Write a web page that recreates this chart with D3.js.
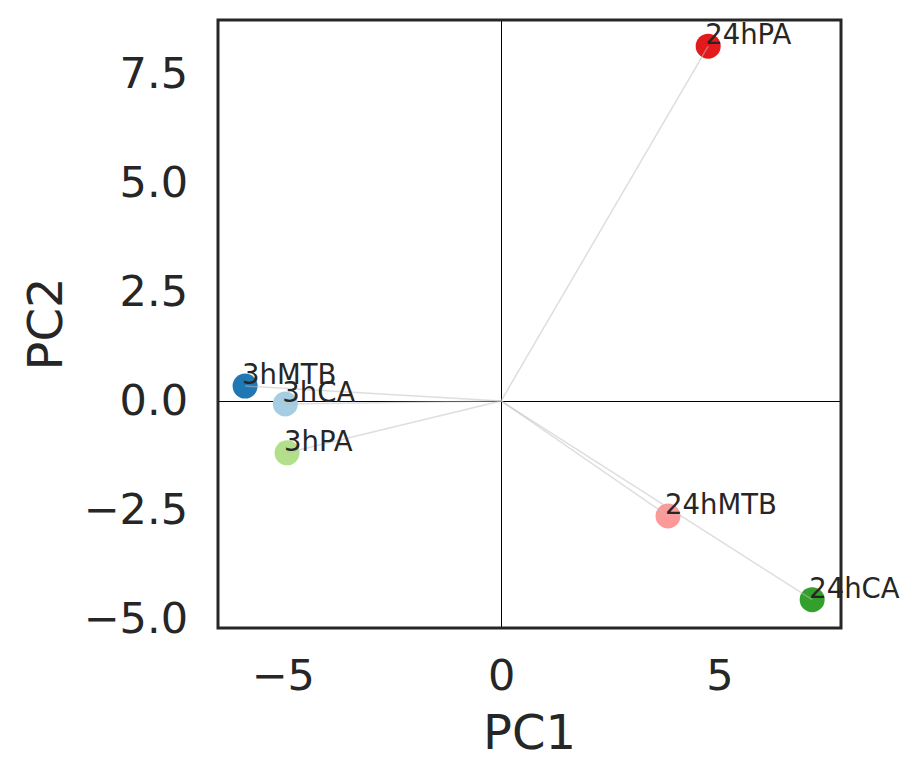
<!DOCTYPE html>
<html>
<head>
<meta charset="utf-8">
<script src="https://cdn.jsdelivr.net/npm/d3@7"></script>
<style>
  body { margin: 0; background: #fff; }
  text { font-family: "DejaVu Sans", sans-serif; fill: #262626; }
</style>
</head>
<body>
<div id="chart"></div>
<script>
const samples = ["3hCA", "3hMTB", "3hPA", "24hCA", "24hMTB", "24hPA"];
const pc1 = [-4.94, -5.86, -4.90, 7.12, 3.82, 4.74];
const pc2 = [-0.07, 0.34, -1.19, -4.56, -2.64, 8.14];
const colors = ["#a6cee3", "#1f78b4", "#b2df8a", "#33a02c", "#fb9a99", "#e31a1c"];
const xTicks = [-5, 0, 5];
const yTicks = [-5, -2.5, 0, 2.5, 5, 7.5];

const W = 919, H = 778;
const m = { left: 218, right: 919 - 841, top: 20, bottom: 778 - 628 };

const svg = d3.select("#chart").append("svg")
  .attr("width", W).attr("height", H);

const x = d3.scaleLinear().domain([-6.48, 7.78]).range([m.left, W - m.right]);
const y = d3.scaleLinear().domain([-5.21, 8.74]).range([H - m.bottom, m.top]);

const minus = s => s.replace("-", "\u2212");

// tick labels only, seaborn white style has no tick marks
svg.append("g")
  .attr("transform", `translate(0,${H - m.bottom})`)
  .call(d3.axisBottom(x).tickValues(xTicks).tickSize(0).tickPadding(31)
    .tickFormat(d => minus(d3.format("d")(d))))
  .call(g => g.select(".domain").remove())
  .selectAll("text").style("font-size", "43px").attr("fill", "#262626");

svg.append("g")
  .attr("transform", `translate(${m.left},0)`)
  .call(d3.axisLeft(y).tickValues(yTicks).tickSize(0).tickPadding(30)
    .tickFormat(d => minus(d3.format(".1f")(d))))
  .call(g => g.select(".domain").remove())
  .selectAll("text").style("font-size", "43px").attr("fill", "#262626");

// axis titles
svg.append("text")
  .attr("x", (x.range()[0] + x.range()[1]) / 2)
  .attr("y", 749)
  .attr("text-anchor", "middle")
  .style("font-size", "48px")
  .text("PC1");

svg.append("text")
  .attr("transform", `translate(62,${(y.range()[0] + y.range()[1]) / 2}) rotate(-90)`)
  .attr("text-anchor", "middle")
  .style("font-size", "48px")
  .text("PC2");

// zero lines
svg.append("line")
  .attr("x1", Math.round(x(0)) + 0.5).attr("x2", Math.round(x(0)) + 0.5)
  .attr("y1", m.top).attr("y2", H - m.bottom)
  .attr("stroke", "#000").attr("stroke-width", 1);
svg.append("line")
  .attr("x1", m.left).attr("x2", W - m.right)
  .attr("y1", Math.round(y(0)) + 0.5).attr("y2", Math.round(y(0)) + 0.5)
  .attr("stroke", "#000").attr("stroke-width", 1);

const data = samples.map((s, i) => ({ name: s, x: pc1[i], y: pc2[i], c: colors[i] }));

// points
svg.append("g").selectAll("circle")
  .data(data).enter().append("circle")
  .attr("cx", d => x(d.x))
  .attr("cy", d => y(d.y))
  .attr("r", 12.5)
  .attr("fill", d => d.c);

// rays from origin
svg.append("g").selectAll("line")
  .data(data).enter().append("line")
  .attr("x1", x(0)).attr("y1", y(0))
  .attr("x2", d => x(d.x)).attr("y2", d => y(d.y))
  .attr("stroke", "#bdbdbd").attr("stroke-opacity", 0.5)
  .attr("stroke-width", 1.5);

// labels
svg.append("g").selectAll("text")
  .data(data).enter().append("text")
  .attr("x", d => x(d.x) - 3)
  .attr("y", d => y(d.y) - 2)
  .style("font-size", "27.5px")
  .text(d => d.name);

// frame
svg.append("rect")
  .attr("x", m.left).attr("y", m.top)
  .attr("width", W - m.right - m.left)
  .attr("height", H - m.bottom - m.top)
  .attr("fill", "none")
  .attr("stroke", "#262626").attr("stroke-width", 3);
</script>
</body>
</html>
